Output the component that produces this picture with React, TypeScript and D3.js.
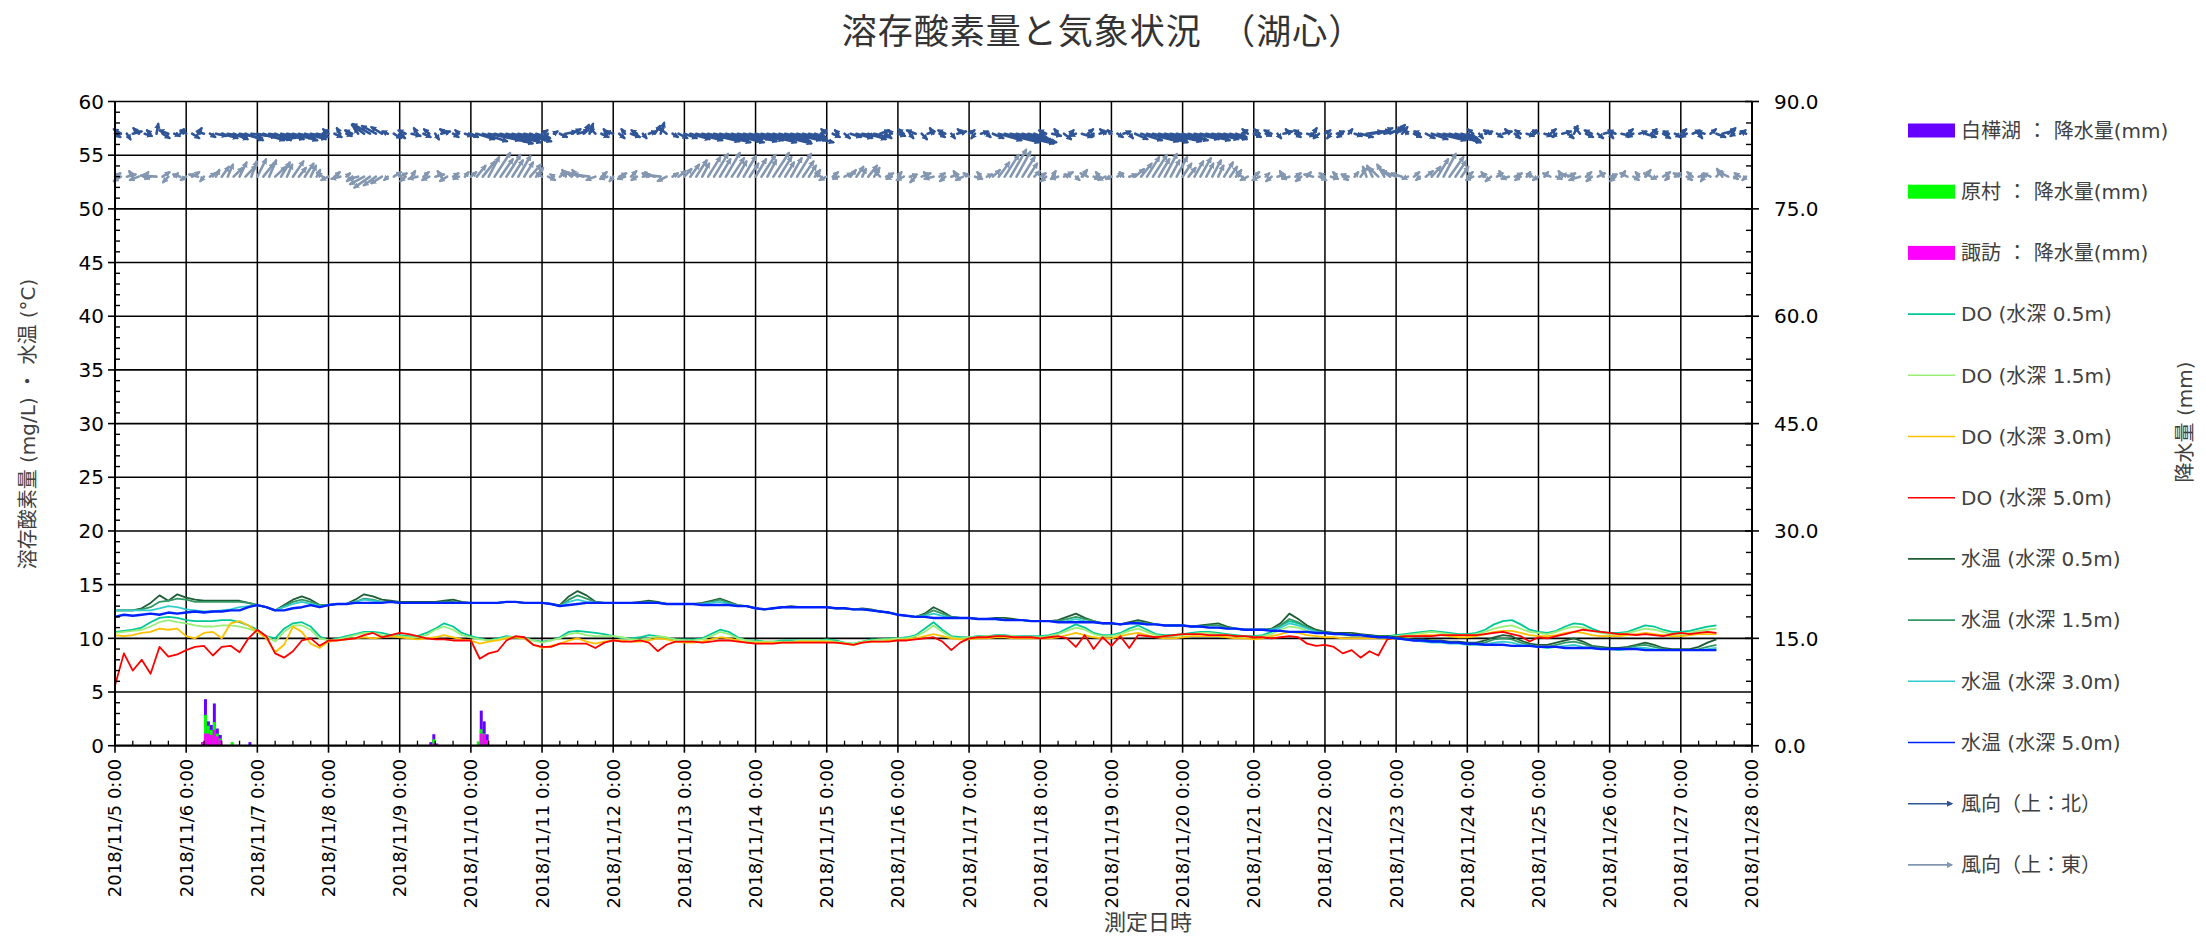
import React from "react";
import * as d3 from "d3";

// ---------- time base ----------
const START = new Date(2018, 10, 5, 0, 0, 0);
const END = new Date(2018, 10, 28, 0, 0, 0);
const LINE_STEP_HOURS = 3;
const WIND_STEP_HOURS = 2;

// ---------- DO (mg/L), every 3 h from 2018/11/5 0:00 ----------
const do05 = [
  10.6, 10.7, 10.8, 11.0, 11.5, 11.9, 12.0, 11.9,
  11.7, 11.6, 11.6, 11.6, 11.7, 11.7, 11.5, 11.2,
  10.8, 10.2, 10.0, 10.9, 11.4, 11.5, 11.1, 10.2,
  9.8, 10.0, 10.2, 10.4, 10.6, 10.6, 10.5, 10.3,
  10.3, 10.2, 10.2, 10.5, 10.9, 11.4, 11.1, 10.5,
  10.2, 10.0, 9.8, 10.0, 10.2, 10.1, 10.1, 9.8,
  9.7, 9.8, 10.1, 10.6, 10.7, 10.6, 10.5, 10.4,
  10.2, 10.0, 10.0, 10.1, 10.3, 10.2, 10.0, 9.9,
  9.9, 9.9, 10.0, 10.4, 10.8, 10.6, 10.1, 9.8,
  9.8, 9.7, 9.7, 9.8, 9.8, 9.8, 9.8, 9.8,
  9.9, 9.8, 9.6, 9.5, 9.7, 9.9, 9.9, 10.0,
  10.0, 10.1, 10.3, 10.9, 11.5, 10.8, 10.2, 10.1,
  10.1, 10.2, 10.2, 10.3, 10.3, 10.2, 10.2, 10.2,
  10.2, 10.3, 10.5, 10.9, 11.3, 11.0, 10.5, 10.3,
  10.3, 10.5, 10.9, 11.2, 10.8, 10.4, 10.3, 10.3,
  10.4, 10.5, 10.6, 10.6, 10.5, 10.4, 10.3, 10.2,
  10.2, 10.3, 10.6, 11.2, 11.6, 11.4, 11.0, 10.7,
  10.6, 10.5, 10.4, 10.3, 10.3, 10.3, 10.2, 10.2,
  10.3, 10.4, 10.5, 10.6, 10.7, 10.6, 10.5, 10.4,
  10.4, 10.5, 10.8, 11.3, 11.6, 11.7, 11.3, 10.8,
  10.6, 10.5, 10.7, 11.1, 11.4, 11.3, 10.9, 10.6,
  10.5, 10.5, 10.6, 10.9, 11.2, 11.1, 10.8, 10.6,
  10.6, 10.7, 10.9, 11.1, 11.2,
];
const do15 = [
  10.5, 10.6, 10.7, 10.8, 11.1, 11.5, 11.7, 11.5,
  11.4, 11.2, 11.1, 11.1, 11.2, 11.2, 11.1, 10.9,
  10.6, 10.2, 9.7, 10.6, 11.2, 11.2, 10.8, 10.0,
  9.8, 9.9, 10.1, 10.3, 10.5, 10.5, 10.3, 10.2,
  10.2, 10.1, 10.1, 10.3, 10.8, 11.1, 10.8, 10.3,
  10.1, 9.9, 9.8, 9.9, 10.1, 10.1, 10.0, 9.8,
  9.6, 9.8, 10.0, 10.4, 10.5, 10.3, 10.2, 10.2,
  10.2, 10.1, 9.9, 9.9, 10.0, 10.2, 10.1, 9.9,
  9.8, 9.8, 9.9, 10.2, 10.6, 10.4, 10.0, 9.8,
  9.7, 9.7, 9.7, 9.7, 9.7, 9.8, 9.8, 9.8,
  9.8, 9.7, 9.6, 9.5, 9.7, 9.8, 9.9, 9.9,
  10.0, 10.0, 10.2, 10.6, 11.2, 10.6, 10.1, 10.0,
  10.1, 10.1, 10.2, 10.2, 10.2, 10.2, 10.1, 10.1,
  10.1, 10.2, 10.4, 10.7, 11.0, 10.8, 10.4, 10.2,
  10.2, 10.4, 10.7, 10.9, 10.6, 10.3, 10.2, 10.2,
  10.3, 10.4, 10.5, 10.5, 10.4, 10.3, 10.2, 10.1,
  10.1, 10.2, 10.4, 10.8, 11.1, 11.0, 10.7, 10.5,
  10.5, 10.4, 10.3, 10.2, 10.2, 10.2, 10.1, 10.1,
  10.2, 10.3, 10.4, 10.5, 10.6, 10.5, 10.4, 10.3,
  10.3, 10.4, 10.6, 10.9, 11.1, 11.2, 10.9, 10.6,
  10.5, 10.4, 10.6, 10.9, 11.1, 11.0, 10.7, 10.5,
  10.4, 10.4, 10.5, 10.7, 10.9, 10.8, 10.6, 10.4,
  10.4, 10.5, 10.7, 10.8, 10.9,
];
const do30 = [
  10.3, 10.2, 10.3, 10.5, 10.6, 10.9, 10.8, 10.9,
  10.2, 10.0, 10.5, 10.6, 10.0, 11.4, 11.6, 11.2,
  10.6, 10.0, 8.7, 9.4, 11.1, 10.6, 9.5, 9.1,
  9.7, 9.8, 9.9, 10.0, 10.1, 10.0, 10.1, 10.2,
  10.1, 10.0, 9.9, 10.0, 10.1, 10.3, 10.1, 9.9,
  9.8, 9.5, 9.7, 9.8, 10.0, 10.1, 10.0, 9.4,
  9.1, 9.3, 9.5, 9.8, 10.0, 9.7, 9.5, 9.7,
  9.8, 9.8, 9.7, 9.7, 9.8, 10.0, 9.9, 9.7,
  9.6, 9.6, 9.7, 9.9, 10.1, 10.0, 9.8, 9.6,
  9.6, 9.6, 9.6, 9.6, 9.6, 9.7, 9.7, 9.7,
  9.7, 9.6, 9.5, 9.4, 9.6, 9.7, 9.7, 9.8,
  9.8, 9.9, 10.0, 10.2, 10.4, 10.2, 10.0, 9.9,
  9.9, 10.0, 10.0, 10.1, 10.1, 10.0, 10.0, 10.0,
  10.0, 10.0, 10.1, 10.3, 10.5, 10.3, 10.1, 10.0,
  10.0, 10.2, 10.4, 10.5, 10.3, 10.1, 10.0, 10.0,
  10.1, 10.2, 10.2, 10.2, 10.2, 10.1, 10.0, 10.0,
  9.9, 10.0, 10.2, 10.4, 10.6, 10.5, 10.3, 10.2,
  10.1, 10.1, 10.0, 10.0, 10.0, 10.0, 10.0, 9.9,
  10.0, 10.1, 10.2, 10.3, 10.3, 10.3, 10.2, 10.1,
  10.1, 10.2, 10.4, 10.6, 10.7, 10.7, 10.5, 10.3,
  10.2, 10.2, 10.3, 10.5, 10.6, 10.5, 10.3, 10.2,
  10.2, 10.2, 10.3, 10.4, 10.5, 10.4, 10.3, 10.2,
  10.2, 10.3, 10.4, 10.4, 10.4,
];
const do50 = [
  5.6, 8.6, 7.0, 8.0, 6.7, 9.2, 8.3, 8.5,
  8.9, 9.2, 9.3, 8.4, 9.2, 9.3, 8.7, 10.0,
  10.8, 10.2, 8.6, 8.2, 8.8, 9.8, 10.0, 9.3,
  9.8, 9.8, 9.9, 10.0, 10.3, 10.5, 10.1, 10.3,
  10.5, 10.4, 10.2, 10.0, 9.9, 9.9, 9.8, 9.8,
  9.8, 8.1, 8.6, 8.8, 9.8, 10.2, 10.1, 9.4,
  9.2, 9.2, 9.5, 9.5, 9.5, 9.5, 9.1, 9.6,
  9.8, 9.7, 9.7, 9.8, 9.6, 8.8, 9.4, 9.7,
  9.7, 9.7, 9.6, 9.7, 9.8, 9.8, 9.7, 9.6,
  9.5, 9.5, 9.5, 9.6, 9.6, 9.6, 9.6, 9.6,
  9.6, 9.6, 9.5, 9.4, 9.6, 9.7, 9.7, 9.7,
  9.8, 9.8, 9.9, 10.0, 10.1, 9.7, 8.9, 9.6,
  10.0, 10.1, 10.1, 10.2, 10.2, 10.1, 10.1, 10.1,
  10.0, 10.1, 10.2, 10.0, 9.2, 10.3, 9.0, 10.1,
  9.3, 10.2, 9.1, 10.3, 10.2, 10.1, 10.2, 10.3,
  10.4, 10.4, 10.4, 10.3, 10.3, 10.3, 10.2, 10.2,
  10.1, 10.1, 10.0, 10.1, 10.2, 10.1, 9.5, 9.3,
  9.4, 9.2, 8.6, 8.9, 8.2, 8.8, 8.4, 9.9,
  10.1, 10.2, 10.2, 10.2, 10.2, 10.3, 10.3, 10.3,
  10.3, 10.3, 10.4, 10.5, 10.6, 10.4, 10.2, 9.7,
  10.1, 10.0, 10.2, 10.4, 10.6, 10.8, 10.7, 10.6,
  10.5, 10.4, 10.4, 10.3, 10.4, 10.3, 10.2, 10.4,
  10.5, 10.4, 10.5, 10.6, 10.5,
];

// ---------- water temperature (°C), every 3 h ----------
const wt05 = [
  12.6, 12.6, 12.6, 12.8, 13.3, 14.0, 13.5, 14.1,
  13.8, 13.6, 13.5, 13.5, 13.5, 13.5, 13.5, 13.3,
  13.1, 12.9, 12.6, 13.1, 13.6, 13.9, 13.6, 13.1,
  13.1, 13.2, 13.2, 13.6, 14.1, 13.9, 13.6, 13.5,
  13.4, 13.4, 13.4, 13.4, 13.4, 13.5, 13.6, 13.4,
  13.3, 13.3, 13.3, 13.3, 13.4, 13.4, 13.3, 13.3,
  13.3, 13.2, 13.1, 13.9, 14.4, 14.0, 13.4, 13.3,
  13.3, 13.3, 13.3, 13.4, 13.5, 13.4, 13.2, 13.2,
  13.2, 13.2, 13.3, 13.5, 13.7, 13.4, 13.1, 13.0,
  12.8, 12.7, 12.8, 12.9, 13.0, 12.9, 12.9, 12.9,
  12.9, 12.8, 12.8, 12.7, 12.8, 12.7, 12.5, 12.4,
  12.2, 12.1, 12.0, 12.3, 12.9, 12.5, 12.0, 11.9,
  11.9, 11.8, 11.8, 11.9, 11.9, 11.8, 11.7, 11.6,
  11.6, 11.6, 11.7, 12.0, 12.3, 11.9, 11.6, 11.4,
  11.4, 11.3, 11.5, 11.7, 11.5, 11.3, 11.2, 11.2,
  11.2, 11.1, 11.2, 11.3, 11.4, 11.1, 10.9, 10.8,
  10.8, 10.8, 10.9, 11.4, 12.3, 11.8, 11.2, 10.8,
  10.6, 10.5, 10.5, 10.5, 10.4, 10.3, 10.2, 10.2,
  10.1, 10.0, 9.9, 9.9, 9.8, 9.8, 9.7, 9.7,
  9.6, 9.6, 9.8, 10.1, 10.3, 10.2, 9.8, 9.5,
  9.4, 9.4, 9.6, 9.8, 10.0, 9.7, 9.3, 9.2,
  9.1, 9.1, 9.2, 9.4, 9.6, 9.4, 9.1, 9.0,
  9.0, 9.0, 9.2, 9.6, 9.9,
];
const wt15 = [
  12.6, 12.6, 12.6, 12.7, 12.9, 13.4, 13.5, 13.7,
  13.6, 13.4, 13.4, 13.4, 13.4, 13.4, 13.4, 13.3,
  13.1, 12.9, 12.6, 13.0, 13.4, 13.6, 13.4, 13.1,
  13.1, 13.2, 13.2, 13.4, 13.7, 13.6, 13.4, 13.4,
  13.3, 13.3, 13.3, 13.3, 13.3, 13.4, 13.4, 13.3,
  13.3, 13.3, 13.3, 13.3, 13.4, 13.4, 13.3, 13.3,
  13.3, 13.2, 13.0, 13.6, 14.0, 13.7, 13.4, 13.3,
  13.3, 13.3, 13.3, 13.3, 13.4, 13.3, 13.2, 13.2,
  13.2, 13.2, 13.2, 13.4, 13.6, 13.3, 13.1, 13.0,
  12.8, 12.7, 12.8, 12.9, 12.9, 12.9, 12.9, 12.9,
  12.9, 12.8, 12.8, 12.7, 12.7, 12.6, 12.5, 12.4,
  12.2, 12.1, 12.0, 12.2, 12.6, 12.3, 12.0, 11.9,
  11.9, 11.8, 11.8, 11.8, 11.7, 11.7, 11.7, 11.6,
  11.6, 11.6, 11.6, 11.8, 12.0, 11.8, 11.6, 11.4,
  11.4, 11.3, 11.4, 11.5, 11.4, 11.3, 11.2, 11.2,
  11.2, 11.1, 11.1, 11.2, 11.2, 11.0, 10.9, 10.8,
  10.8, 10.8, 10.8, 11.2, 11.8, 11.5, 11.0, 10.7,
  10.5, 10.4, 10.4, 10.3, 10.3, 10.2, 10.1, 10.1,
  10.0, 9.9, 9.8, 9.8, 9.7, 9.7, 9.6, 9.6,
  9.5, 9.5, 9.6, 9.9, 10.0, 9.9, 9.6, 9.4,
  9.2, 9.2, 9.4, 9.6, 9.7, 9.5, 9.2, 9.1,
  9.0, 9.0, 9.1, 9.3, 9.4, 9.2, 9.0, 8.9,
  8.9, 8.9, 9.0, 9.2, 9.4,
];
const wt30 = [
  12.6, 12.6, 12.6, 12.6, 12.6, 12.8, 13.0, 12.9,
  12.7, 12.6, 12.5, 12.5, 12.6, 12.7, 12.9, 13.0,
  13.1, 12.9, 12.6, 12.9, 13.2, 13.4, 13.2, 13.0,
  13.1, 13.2, 13.2, 13.4, 13.6, 13.5, 13.4, 13.4,
  13.3, 13.3, 13.3, 13.3, 13.3, 13.3, 13.3, 13.3,
  13.3, 13.3, 13.3, 13.3, 13.4, 13.4, 13.3, 13.3,
  13.3, 13.2, 13.0, 13.4, 13.6, 13.4, 13.3, 13.3,
  13.3, 13.3, 13.3, 13.3, 13.3, 13.3, 13.2, 13.2,
  13.2, 13.2, 13.2, 13.3, 13.4, 13.2, 13.0, 13.0,
  12.8, 12.7, 12.8, 12.9, 12.9, 12.9, 12.9, 12.9,
  12.9, 12.8, 12.8, 12.7, 12.7, 12.6, 12.5, 12.4,
  12.2, 12.1, 12.0, 12.1, 12.3, 12.1, 11.9, 11.9,
  11.9, 11.8, 11.8, 11.8, 11.7, 11.7, 11.7, 11.6,
  11.6, 11.6, 11.5, 11.6, 11.8, 11.6, 11.5, 11.4,
  11.4, 11.3, 11.4, 11.4, 11.3, 11.3, 11.2, 11.2,
  11.2, 11.1, 11.1, 11.0, 11.0, 10.9, 10.9, 10.8,
  10.8, 10.8, 10.8, 11.0, 11.4, 11.2, 10.9, 10.6,
  10.5, 10.4, 10.4, 10.3, 10.3, 10.2, 10.1, 10.1,
  10.0, 9.9, 9.8, 9.7, 9.6, 9.6, 9.5, 9.5,
  9.4, 9.4, 9.4, 9.6, 9.7, 9.6, 9.4, 9.3,
  9.2, 9.1, 9.2, 9.3, 9.4, 9.2, 9.1, 9.0,
  9.0, 8.9, 9.0, 9.1, 9.1, 9.0, 8.9, 8.9,
  8.9, 8.9, 8.9, 9.0, 9.1,
];
const wt50 = [
  12.0, 12.2, 12.1, 12.2, 12.3, 12.2, 12.4, 12.3,
  12.4, 12.5, 12.4, 12.5, 12.5, 12.6, 12.6, 12.9,
  13.1, 12.9, 12.6, 12.6, 12.8, 12.9, 13.1, 12.9,
  13.1, 13.2, 13.2, 13.3, 13.3, 13.3, 13.3, 13.4,
  13.3, 13.3, 13.3, 13.3, 13.3, 13.3, 13.3, 13.3,
  13.3, 13.3, 13.3, 13.3, 13.4, 13.4, 13.3, 13.3,
  13.3, 13.2, 13.0, 13.1, 13.2, 13.3, 13.3, 13.3,
  13.3, 13.3, 13.3, 13.3, 13.3, 13.3, 13.2, 13.2,
  13.2, 13.2, 13.1, 13.1, 13.1, 13.1, 13.0, 13.0,
  12.8, 12.7, 12.8, 12.9, 12.9, 12.9, 12.9, 12.9,
  12.9, 12.8, 12.8, 12.7, 12.7, 12.6, 12.5, 12.4,
  12.2, 12.1, 12.0, 12.0, 11.9, 11.9, 11.9, 11.9,
  11.9, 11.8, 11.8, 11.8, 11.7, 11.7, 11.7, 11.6,
  11.6, 11.6, 11.5, 11.5, 11.5, 11.5, 11.5, 11.4,
  11.4, 11.3, 11.4, 11.4, 11.3, 11.3, 11.2, 11.2,
  11.2, 11.1, 11.1, 11.0, 11.0, 10.9, 10.9, 10.8,
  10.8, 10.8, 10.7, 10.7, 10.6, 10.6, 10.6, 10.5,
  10.5, 10.4, 10.4, 10.3, 10.3, 10.2, 10.1, 10.1,
  10.0, 9.9, 9.8, 9.8, 9.7, 9.7, 9.6, 9.6,
  9.5, 9.5, 9.4, 9.4, 9.4, 9.3, 9.3, 9.3,
  9.2, 9.2, 9.2, 9.1, 9.1, 9.1, 9.1, 9.0,
  9.0, 9.0, 9.0, 9.0, 8.9, 8.9, 8.9, 8.9,
  8.9, 8.9, 8.9, 8.9, 8.9,
];

// ---------- wind vector components, every 2 h (left-axis units) ----------
const windEast = [
  0.3, -0.4, 0.2, 0.5, -0.3, 0.4, -0.2, 0.1, 0.4, -0.5, 0.3, 0.2,
  -0.3, 0.4, 0.2, -0.4, 0.3, 0.6, 0.9, 1.1, 0.8, 1.3, 1.0, 1.4,
  1.6, 1.2, 1.5, 0.9, 1.3, 1.1, 1.4, 0.8, 1.2, 1.0, 0.6, 0.3,
  -0.3, 0.4, -0.2, 0.3, -0.4, -0.2, -0.7, -1.0, -0.8, -0.6, -0.3, 0.4,
  0.3, -0.4, 0.5, -0.2, 0.4, -0.3, 0.2, 0.5, -0.4, 0.3, -0.2, 0.4,
  0.4, 1.0, 1.4, 1.8, 2.2, 1.6, 2.0, 1.5, 1.9, 1.3, 1.1, 0.8,
  0.3, -0.3, 0.2, 0.4, 0.6, 0.5, 0.6, 0.3, 0.2, -0.3, 0.4, -0.2,
  -0.4, 0.3, -0.2, 0.5, -0.3, 0.2, 0.4, 0.3, 0.2, -0.4, 0.3, 0.5,
  0.7, 1.1, 1.5, 1.2, 1.8, 2.1, 1.6, 2.2, 1.7, 1.4, 1.9, 1.2,
  1.6, 2.0, 1.5, 2.2, 1.8, 1.3, 1.7, 2.1, 1.4, 1.0, 0.6, 0.3,
  -0.3, 0.4, -0.2, 0.3, 0.6, 0.9, 0.7, 1.0, 0.8, 0.5, 0.3, -0.2,
  0.4, -0.3, 0.2, -0.5, 0.3, 0.4, -0.2, 0.3, -0.4, 0.2, 0.5, -0.3,
  0.3, -0.2, 0.4, 0.2, 0.6, 1.3, 2.0, 2.5, 2.3, 1.8, 1.2, 0.5,
  0.3, -0.4, 0.5, -0.2, 0.4, 0.2, -0.3, 0.6, 0.3, -0.2, 0.4, -0.3,
  -0.2, 0.3, 0.4, 0.2, 0.7, 1.2, 1.8, 2.0, 1.6, 2.1, 1.5, 1.8,
  1.2, 0.8, 1.4, 1.7, 1.2, 1.5, 1.0, 1.3, 0.9, 0.6, 0.3, -0.3,
  0.4, -0.3, 0.3, -0.4, 0.2, 0.5, -0.2, 0.3, -0.4, 0.4, 0.2, -0.3,
  0.3, -0.2, 0.4, -0.3, 0.2, 0.4, 0.7, 0.9, 1.0, 0.8, 1.1, 0.7,
  0.5, 0.3, -0.2, 0.4, -0.3, 0.5, 0.9, 1.6, 2.1, 1.8, 1.4, 0.9,
  0.4, -0.3, 0.2, 0.4, -0.4, 0.3, 0.5, -0.2, 0.3, -0.3, 0.4, 0.2,
  -0.3, 0.4, 0.3, -0.2, 0.5, 0.3, 0.2, -0.3, 0.4, -0.4, 0.3, 0.5,
  0.2, -0.4, 0.5, 0.3, -0.3, 0.4, 0.6, 0.3, -0.2, 0.4, -0.3, 0.3,
  0.3, -0.3, 0.4, 0.2, -0.4, 0.3, 0.5, 0.7, 0.4, -0.2, 0.3, -0.3,
];
const windNorth = [
  -0.3, 0.4, -0.5, 0.2, 0.5, -0.2, 0.3, 0.9, -0.4, 0.3, -0.2, 0.4,
  0.3, -0.4, 0.5, 0.2, -0.3, -0.2, -0.4, -0.3, -0.5, -0.4, -0.6, -0.3,
  -0.5, -0.6, -0.4, -0.6, -0.5, -0.3, -0.6, -0.4, -0.5, -0.3, -0.2, 0.3,
  0.4, -0.3, 0.5, -0.2, 0.3, 0.5, 0.8, 0.9, 0.7, 0.6, 0.2, -0.4,
  -0.4, 0.3, -0.2, 0.5, -0.3, 0.4, -0.5, 0.2, 0.4, -0.3, 0.3, -0.2,
  -0.3, -0.5, -0.7, -0.6, -0.9, -0.7, -0.8, -0.6, -0.7, -0.5, -0.6, -0.4,
  0.3, -0.4, 0.2, -0.3, 0.2, 0.4, 0.3, 0.8, 0.9, 0.5, -0.3, 0.4,
  0.2, -0.4, 0.4, -0.3, 0.3, -0.4, 0.2, 0.7, 1.0, 0.5, -0.3, -0.4,
  -0.4, -0.5, -0.6, -0.4, -0.7, -0.8, -0.6, -0.8, -0.7, -0.5, -0.7, -0.5,
  -0.6, -0.8, -0.5, -0.9, -0.7, -0.5, -0.6, -0.8, -0.6, -0.4, -0.3, 0.3,
  0.4, -0.3, 0.3, -0.4, -0.3, -0.4, -0.2, -0.5, -0.3, 0.3, -0.4, 0.3,
  -0.2, 0.4, -0.4, 0.3, -0.5, 0.2, 0.5, -0.3, 0.3, -0.4, 0.2, 0.4,
  0.3, -0.4, 0.2, -0.3, -0.4, -0.6, -0.8, -0.9, -0.8, -0.7, -0.5, -0.3,
  -0.3, 0.3, -0.2, 0.4, -0.5, 0.3, -0.2, -0.3, 0.4, -0.3, 0.2, 0.4,
  0.3, -0.3, 0.2, -0.4, -0.5, -0.6, -0.7, -0.8, -0.6, -0.7, -0.5, -0.6,
  -0.5, -0.4, -0.5, -0.6, -0.4, -0.5, -0.3, -0.5, -0.4, -0.3, 0.3, 0.4,
  -0.3, 0.4, -0.2, 0.3, -0.4, 0.2, 0.4, -0.3, 0.3, -0.2, 0.5, -0.4,
  0.3, -0.4, 0.2, -0.3, 0.4, -0.2, -0.3, 0.2, 0.3, 0.5, 0.4, 0.6,
  0.8, 0.6, 0.3, -0.3, 0.2, -0.4, -0.5, -0.6, -0.7, -0.8, -0.6, -0.4,
  -0.3, 0.4, -0.4, 0.2, 0.3, -0.3, 0.2, 0.4, -0.4, 0.3, -0.2, 0.3,
  0.3, -0.2, 0.4, -0.3, 0.2, -0.4, 0.7, 0.6, -0.3, 0.3, -0.4, 0.2,
  -0.4, 0.3, -0.2, 0.4, -0.3, 0.2, -0.3, 0.4, 0.3, -0.4, 0.2, -0.3,
  0.4, -0.3, 0.3, -0.4, 0.2, 0.4, -0.3, 0.3, 0.5, -0.2, 0.3, 0.2,
];
const WIND_N_BASE = 57;
const WIND_E_BASE = 53;

// ---------- precipitation (mm), hour index from 2018/11/5 0:00 ----------
const rainHour = [29, 30, 31, 32, 33, 34, 35, 39, 45, 106, 107, 108, 122, 123, 124, 125];
const rainShirakaba = [0.5, 6.5, 3.4, 2.9, 5.9, 2.4, 1.5, 0, 0.5, 0.5, 1.6, 0.3, 0, 4.9, 3.4, 1.6];
const rainHaramura = [0, 4.3, 2.8, 2.2, 3.3, 1.7, 1.0, 0.5, 0, 0, 0.9, 0, 0.6, 2.3, 1.7, 0];
const rainSuwa = [0.5, 1.7, 1.7, 1.5, 2.2, 1.3, 0.8, 0, 0, 0.2, 0.3, 0.2, 0, 1.7, 1.6, 0.8];

// ---------- axes ----------
const leftTicks = [0, 5, 10, 15, 20, 25, 30, 35, 40, 45, 50, 55, 60];
const rightTicks = [0, 15, 30, 45, 60, 75, 90];

const COLORS = {
  shirakaba: "#6600FF",
  haramura: "#00FF00",
  suwa: "#FF00FF",
  do05: "#00C896",
  do15: "#99EE77",
  do30: "#FFC000",
  do50: "#FF0000",
  wt05: "#1E5E36",
  wt15: "#339966",
  wt30: "#33CCCC",
  wt50: "#0022FF",
  windN: "#2F5597",
  windE: "#8497B0",
};

const legendItems = [
  { label: "白樺湖 ： 降水量(mm)", color: COLORS.shirakaba, kind: "bar" },
  { label: "原村 ： 降水量(mm)", color: COLORS.haramura, kind: "bar" },
  { label: "諏訪 ： 降水量(mm)", color: COLORS.suwa, kind: "bar" },
  { label: "DO (水深 0.5m)", color: COLORS.do05, kind: "line" },
  { label: "DO (水深 1.5m)", color: COLORS.do15, kind: "line" },
  { label: "DO (水深 3.0m)", color: COLORS.do30, kind: "line" },
  { label: "DO (水深 5.0m)", color: COLORS.do50, kind: "line" },
  { label: "水温 (水深 0.5m)", color: COLORS.wt05, kind: "line" },
  { label: "水温 (水深 1.5m)", color: COLORS.wt15, kind: "line" },
  { label: "水温 (水深 3.0m)", color: COLORS.wt30, kind: "line" },
  { label: "水温 (水深 5.0m)", color: COLORS.wt50, kind: "line" },
  { label: "風向（上：北）", color: COLORS.windN, kind: "arrow" },
  { label: "風向（上：東）", color: COLORS.windE, kind: "arrow" },
];

const FONT = "'DejaVu Sans', 'Noto Sans CJK JP', sans-serif";
const CJK = "'Noto Sans CJK JP', 'DejaVu Sans', sans-serif";

export default function App() {
  const PL = 115, PR = 1752, PT = 101.5, PB = 745.7;
  const x = d3.scaleTime().domain([START, END]).range([PL, PR]);
  const yL = d3.scaleLinear().domain([0, 60]).range([PB, PT]);
  const yR = d3.scaleLinear().domain([0, 90]).range([PB, PT]);
  const unit = yL(0) - yL(1);
  const unitX = unit * 1.6; // horizontal stretch of the vector glyphs

  const tLine = (i: number) => d3.timeHour.offset(START, i * LINE_STEP_HOURS);
  const mkLine = (arr: number[]) =>
    d3.line<number>().x((_, i) => x(tLine(i))).y((v) => yL(v))(arr) || "";

  const days = d3.timeDay.range(START, d3.timeDay.offset(END, 1));
  const sixHours = d3.timeHour.every(6)!.range(START, END).filter((d) => d.getHours() !== 0);
  const fmt = d3.timeFormat("%Y/%-m/%-d %-H:%M");
  const minorLeft = d3.range(0, 61, 1).filter((v) => v % 5 !== 0);
  const minorRight = d3.range(0, 91, 3).filter((v) => v % 15 !== 0);

  const windVectors = windEast.map((e, i) => {
    const n = windNorth[i];
    const x0 = x(d3.timeHour.offset(START, i * WIND_STEP_HOURS));
    return { x0, e, n };
  });

  const series = [
    { data: do05, color: COLORS.do05, w: 1.8 },
    { data: do15, color: COLORS.do15, w: 1.8 },
    { data: do30, color: COLORS.do30, w: 1.8 },
    { data: do50, color: COLORS.do50, w: 1.8 },
    { data: wt05, color: COLORS.wt05, w: 1.8 },
    { data: wt15, color: COLORS.wt15, w: 1.8 },
    { data: wt30, color: COLORS.wt30, w: 1.8 },
    { data: wt50, color: COLORS.wt50, w: 2.4 },
  ];

  const bars = rainHour.map((h, j) => {
    const t0 = d3.timeHour.offset(START, h);
    const t1 = d3.timeHour.offset(START, h + 1);
    return { x0: x(t0), x1: x(t1), p: rainShirakaba[j], g: rainHaramura[j], m: rainSuwa[j] };
  });

  const legendX = 1908, legendY0 = 130.5, legendStep = 61.2;
  const eBase = yL(WIND_E_BASE);
  const nBase = yL(WIND_N_BASE);

  return (
    <svg
      width={2206}
      height={936}
      style={{ position: "absolute", left: 0, top: 0, background: "#fff" }}
      fontFamily={FONT}
    >
      <defs>
        <marker id="arrN" viewBox="0 0 10 10" refX="7" refY="5" markerWidth="2.4" markerHeight="2.4" orient="auto">
          <path d="M0,0 L10,5 L0,10 z" fill={COLORS.windN} />
        </marker>
        <marker id="arrE" viewBox="0 0 10 10" refX="7" refY="5" markerWidth="2.4" markerHeight="2.4" orient="auto">
          <path d="M0,0 L10,5 L0,10 z" fill={COLORS.windE} />
        </marker>
        <marker id="legN" viewBox="0 0 10 10" refX="8" refY="5" markerWidth="4" markerHeight="4" orient="auto">
          <path d="M0,0 L10,5 L0,10 z" fill={COLORS.windN} />
        </marker>
        <marker id="legE" viewBox="0 0 10 10" refX="8" refY="5" markerWidth="4" markerHeight="4" orient="auto">
          <path d="M0,0 L10,5 L0,10 z" fill={COLORS.windE} />
        </marker>
      </defs>
      <rect x={0} y={0} width={2206} height={936} fill="#fff" />

      {/* title */}
      <text x={1103} y={44} textAnchor="middle" fontSize={35} letterSpacing={1} fontFamily={CJK} fill="#333">
        溶存酸素量と気象状況　（湖心）
      </text>

      {/* grid */}
      {leftTicks.filter((v) => v > 0).map((v) => (
        <line key={"hg" + v} x1={PL} x2={PR} y1={yL(v)} y2={yL(v)} stroke="#000" strokeWidth={1.6} />
      ))}
      {days.slice(1, -1).map((d, i) => (
        <line key={"vg" + i} x1={x(d)} x2={x(d)} y1={PT} y2={PB} stroke="#000" strokeWidth={1.5} />
      ))}

      {/* wind vectors */}
      <g stroke={COLORS.windE} strokeWidth={2.6} fill="none" strokeLinecap="round">
        {windVectors.map((w, i) => (
          <line key={"we" + i} x1={w.x0} y1={eBase} x2={w.x0 - w.n * unitX} y2={eBase - w.e * unit} markerEnd="url(#arrE)" />
        ))}
      </g>
      <g stroke={COLORS.windN} strokeWidth={2.6} fill="none" strokeLinecap="round">
        {windVectors.map((w, i) => (
          <line key={"wn" + i} x1={w.x0} y1={nBase} x2={w.x0 + w.e * unitX} y2={nBase - w.n * unit} markerEnd="url(#arrN)" />
        ))}
      </g>

      {/* precipitation bars (overlapped) */}
      {bars.map((b, i) => (
        <g key={"b" + i}>
          {b.p > 0 && <rect x={b.x0} width={b.x1 - b.x0} y={yR(b.p)} height={yR(0) - yR(b.p)} fill={COLORS.shirakaba} />}
          {b.g > 0 && <rect x={b.x0} width={b.x1 - b.x0} y={yR(b.g)} height={yR(0) - yR(b.g)} fill={COLORS.haramura} />}
          {b.m > 0 && <rect x={b.x0} width={b.x1 - b.x0} y={yR(b.m)} height={yR(0) - yR(b.m)} fill={COLORS.suwa} />}
        </g>
      ))}

      {/* lines */}
      {series.map((s, i) => (
        <path key={"s" + i} d={mkLine(s.data)} fill="none" stroke={s.color} strokeWidth={s.w} strokeLinejoin="round" />
      ))}

      {/* axes frame */}
      <line x1={PL} x2={PL} y1={PT} y2={PB} stroke="#000" strokeWidth={2} />
      <line x1={PR} x2={PR} y1={PT} y2={PB} stroke="#000" strokeWidth={2} />
      <line x1={PL} x2={PR} y1={PB} y2={PB} stroke="#000" strokeWidth={2.2} />

      {/* left axis */}
      {leftTicks.map((v) => (
        <g key={"lt" + v}>
          <line x1={PL - 7} x2={PL} y1={yL(v)} y2={yL(v)} stroke="#000" strokeWidth={1.6} />
          <text x={PL - 11} y={yL(v)} dy="0.36em" textAnchor="end" fontSize={20} fill="#000">{v}</text>
        </g>
      ))}
      {minorLeft.map((v) => (
        <line key={"lm" + v} x1={PL} x2={PL + 5} y1={yL(v)} y2={yL(v)} stroke="#000" strokeWidth={1.4} />
      ))}

      {/* right axis */}
      {rightTicks.map((v) => (
        <g key={"rt" + v}>
          <line x1={PR - 7} x2={PR + 7} y1={yR(v)} y2={yR(v)} stroke="#000" strokeWidth={1.6} />
          <text x={PR + 22} y={yR(v)} dy="0.36em" textAnchor="start" fontSize={20} fill="#000">{v.toFixed(1)}</text>
        </g>
      ))}
      {minorRight.map((v) => (
        <line key={"rm" + v} x1={PR - 6} x2={PR} y1={yR(v)} y2={yR(v)} stroke="#000" strokeWidth={1.4} />
      ))}

      {/* x axis */}
      {days.map((d, i) => (
        <g key={"xt" + i}>
          <line x1={x(d)} x2={x(d)} y1={PB} y2={PB + 7} stroke="#000" strokeWidth={1.6} />
          <text
            transform={`translate(${x(d)},${PB + 13}) rotate(-90)`}
            dy="0.36em"
            textAnchor="end"
            fontSize={18}
            fill="#000"
          >
            {fmt(d)}
          </text>
        </g>
      ))}
      {sixHours.map((d, i) => (
        <line key={"xm" + i} x1={x(d)} x2={x(d)} y1={PB - 5} y2={PB} stroke="#000" strokeWidth={1.3} />
      ))}

      {/* axis titles */}
      <text transform="translate(28,424) rotate(-90)" textAnchor="middle" dy="0.35em" fontSize={20} fill="#404040">
        溶存酸素量 (mg/L) ・ 水温 (°C)
      </text>
      <text transform="translate(2185,422) rotate(-90)" textAnchor="middle" dy="0.35em" fontSize={20} fill="#404040">
        降水量 (mm)
      </text>
      <text x={1148} y={930} textAnchor="middle" fontSize={22} fontFamily={CJK} fill="#404040">
        測定日時
      </text>

      {/* legend */}
      {legendItems.map((it, i) => {
        const cy = legendY0 + i * legendStep;
        return (
          <g key={"lg" + i}>
            {it.kind === "bar" && <rect x={legendX} y={cy - 7} width={47} height={14} fill={it.color} />}
            {it.kind === "line" && <line x1={legendX} x2={legendX + 47} y1={cy} y2={cy} stroke={it.color} strokeWidth={1.6} />}
            {it.kind === "arrow" && (
              <line x1={legendX} x2={legendX + 44} y1={cy} y2={cy} stroke={it.color} strokeWidth={1.6}
                markerEnd={it.color === COLORS.windN ? "url(#legN)" : "url(#legE)"} />
            )}
            <text x={legendX + 53} y={cy} dy="0.36em" fontSize={20} fill="#404040">{it.label}</text>
          </g>
        );
      })}
    </svg>
  );
}
